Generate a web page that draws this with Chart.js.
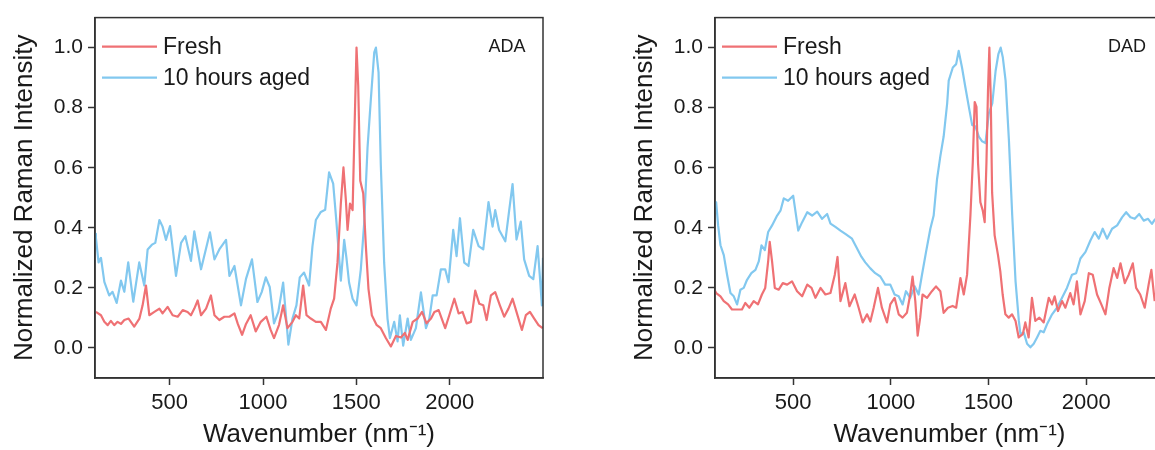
<!DOCTYPE html>
<html>
<head>
<meta charset="utf-8">
<script src="https://cdn.jsdelivr.net/npm/chart.js@4.4.1/dist/chart.umd.min.js"></script>
<style>
  html, body { margin: 0; padding: 0; width: 1155px; height: 450px; overflow: hidden; background: #ffffff; }
  .panel { position: absolute; top: 0; height: 450px; }
  #p1 { left: 0; width: 560px; }
  #p2 { left: 620px; width: 600px; }
</style>
</head>
<body>
<div class="panel" id="p1"><canvas id="c1" width="560" height="450"></canvas></div>
<div class="panel" id="p2"><canvas id="c2" width="600" height="450"></canvas></div>
<script>
// ---------- DATA ----------
const seriesLabels = ["Fresh", "10 hours aged"];
const panelLabels = ["ADA", "DAD"];
const xTicks = [500, 1000, 1500, 2000];
const yTicks = [0.0, 0.2, 0.4, 0.6, 0.8, 1.0];

// ADA - Fresh
const adaFreshX = [105,132,150,168,185,203,221,239,257,280,310,338,355,373,391,418,445,462,489,516,543,570,596,614,632,650,668,695,721,740,766,793,820,847,865,888,909,934,961,988,1018,1041,1059,1086,1108,1131,1158,1176,1194,1215,1233,1256,1283,1310,1337,1363,1381,1399,1417,1431,1444,1453,1466,1480,1490,1501,1510,1521,1537,1551,1565,1583,1608,1631,1658,1685,1712,1739,1760,1775,1802,1828,1852,1876,1900,1918,1941,1976,1998,2025,2048,2069,2091,2114,2137,2159,2180,2198,2221,2244,2269,2292,2315,2337,2358,2387,2408,2430,2453,2476,2498];
const adaFreshY = [0.12,0.109,0.087,0.076,0.09,0.076,0.087,0.08,0.093,0.098,0.071,0.098,0.142,0.208,0.109,0.12,0.131,0.115,0.137,0.109,0.104,0.126,0.12,0.109,0.131,0.158,0.109,0.131,0.175,0.109,0.093,0.104,0.104,0.115,0.08,0.044,0.08,0.109,0.055,0.087,0.104,0.06,0.033,0.077,0.142,0.066,0.087,0.109,0.098,0.208,0.109,0.098,0.087,0.087,0.06,0.131,0.164,0.284,0.481,0.601,0.492,0.393,0.481,0.459,0.721,1.0,0.874,0.557,0.514,0.339,0.197,0.109,0.077,0.066,0.033,0.005,0.04,0.035,0.05,0.027,0.087,0.098,0.12,0.082,0.098,0.12,0.126,0.066,0.109,0.164,0.115,0.12,0.082,0.087,0.191,0.147,0.142,0.093,0.175,0.186,0.142,0.104,0.131,0.164,0.12,0.06,0.109,0.12,0.098,0.076,0.066];

// ADA - 10 hours aged
const adaAgedX = [100,105,119,132,150,176,194,216,239,257,278,305,337,364,382,405,423,445,462,480,502,534,561,584,614,632,668,716,740,766,802,820,847,882,909,941,970,993,1015,1036,1059,1082,1108,1136,1158,1179,1197,1220,1247,1265,1283,1310,1333,1354,1376,1394,1417,1435,1447,1461,1480,1501,1524,1542,1560,1578,1596,1605,1619,1631,1649,1667,1680,1703,1721,1733,1751,1775,1792,1819,1846,1873,1891,1909,1930,1953,1976,1994,2019,2037,2055,2078,2101,2126,2155,2180,2208,2230,2244,2265,2298,2319,2337,2358,2381,2399,2426,2448,2471,2483,2494,2500];
const adaAgedY = [0.38,0.367,0.285,0.30,0.22,0.175,0.187,0.15,0.224,0.187,0.285,0.154,0.285,0.208,0.328,0.344,0.35,0.426,0.404,0.36,0.406,0.24,0.35,0.372,0.29,0.388,0.262,0.385,0.295,0.328,0.36,0.24,0.273,0.142,0.23,0.295,0.153,0.186,0.235,0.203,0.082,0.12,0.218,0.011,0.098,0.142,0.235,0.251,0.208,0.339,0.426,0.453,0.46,0.585,0.547,0.415,0.224,0.36,0.30,0.218,0.164,0.142,0.262,0.415,0.667,0.83,0.984,1.0,0.918,0.612,0.284,0.098,0.033,0.087,0.022,0.109,0.008,0.098,0.027,0.066,0.185,0.066,0.098,0.175,0.175,0.262,0.262,0.219,0.393,0.306,0.432,0.284,0.273,0.393,0.339,0.328,0.486,0.404,0.459,0.393,0.355,0.459,0.546,0.361,0.421,0.295,0.24,0.229,0.339,0.24,0.142,0.30];

// DAD - Fresh
const dadFreshX = [100,106,128,145,167,187,213,238,255,276,298,320,340,357,372,380,392,406,426,447,469,494,520,546,572,594,614,640,665,691,713,727,742,767,788,815,835,856,878,895,912,934,954,980,997,1019,1040,1060,1082,1099,1111,1125,1137,1150,1162,1185,1210,1231,1253,1270,1292,1316,1334,1356,1373,1390,1407,1419,1429,1438,1446,1458,1470,1480,1489,1497,1504,1511,1518,1531,1548,1560,1572,1586,1603,1620,1638,1654,1675,1688,1705,1722,1739,1760,1782,1808,1825,1838,1855,1876,1893,1918,1935,1952,1970,1992,2013,2033,2055,2077,2098,2118,2140,2158,2175,2197,2217,2238,2255,2276,2299,2319,2333,2350];
const dadFreshY = [0.19,0.183,0.172,0.156,0.145,0.128,0.128,0.128,0.15,0.134,0.156,0.145,0.178,0.2,0.288,0.353,0.288,0.2,0.194,0.216,0.211,0.222,0.189,0.172,0.211,0.2,0.167,0.2,0.178,0.183,0.244,0.303,0.156,0.216,0.139,0.178,0.134,0.085,0.112,0.088,0.134,0.2,0.134,0.085,0.145,0.167,0.112,0.101,0.117,0.178,0.238,0.156,0.041,0.101,0.178,0.167,0.189,0.205,0.189,0.117,0.134,0.14,0.134,0.233,0.178,0.244,0.441,0.616,0.819,0.803,0.616,0.485,0.458,0.419,0.616,0.857,1.0,0.836,0.518,0.375,0.31,0.255,0.178,0.112,0.101,0.112,0.09,0.035,0.046,0.085,0.035,0.167,0.09,0.101,0.085,0.167,0.145,0.172,0.123,0.156,0.134,0.183,0.145,0.222,0.112,0.156,0.249,0.244,0.178,0.145,0.112,0.2,0.266,0.233,0.282,0.216,0.244,0.282,0.2,0.178,0.134,0.211,0.26,0.156];

// DAD - 10 hours aged
const dadAgedX = [100,106,116,128,145,162,179,196,213,230,247,264,286,307,324,338,355,372,392,418,435,452,474,500,526,546,572,597,623,648,674,691,716,742,767,801,827,849,869,895,920,946,971,997,1019,1040,1060,1077,1099,1122,1142,1159,1180,1202,1219,1236,1253,1270,1288,1296,1317,1334,1347,1364,1381,1402,1416,1433,1450,1467,1484,1501,1519,1536,1550,1562,1573,1587,1604,1621,1638,1655,1663,1680,1697,1714,1731,1748,1765,1782,1799,1825,1850,1876,1901,1927,1948,1970,1996,2021,2043,2064,2084,2106,2132,2158,2183,2204,2226,2248,2271,2294,2316,2336,2353];
const dadAgedY = [0.47,0.485,0.408,0.342,0.309,0.243,0.183,0.172,0.145,0.194,0.2,0.227,0.249,0.26,0.288,0.342,0.326,0.386,0.408,0.441,0.457,0.498,0.49,0.507,0.391,0.419,0.452,0.441,0.454,0.43,0.446,0.414,0.403,0.391,0.38,0.364,0.331,0.304,0.285,0.265,0.249,0.238,0.211,0.211,0.178,0.172,0.145,0.189,0.167,0.205,0.178,0.243,0.32,0.397,0.441,0.561,0.638,0.704,0.814,0.89,0.934,0.945,0.989,0.934,0.869,0.792,0.742,0.737,0.704,0.688,0.682,0.78,0.814,0.923,0.978,1.0,0.967,0.89,0.693,0.441,0.222,0.09,0.046,0.052,0.014,0.002,0.014,0.035,0.057,0.052,0.079,0.112,0.134,0.167,0.2,0.244,0.249,0.298,0.32,0.358,0.386,0.364,0.397,0.364,0.397,0.408,0.435,0.452,0.435,0.43,0.446,0.424,0.43,0.413,0.43];

// ---------- STYLE ----------
const RED = "#ef7174";
const BLUE = "#82c8ef";
const AXIS = "#333333";
const TEXT = "#1a1a1a";
const FONT = "'Liberation Sans', Arial, Helvetica, sans-serif";

function pts(xs, ys) { return xs.map((x, i) => ({ x: x, y: ys[i] })); }

const boxAndLegend = {
  id: "boxAndLegend",
  afterDraw(chart, args, opts) {
    const { ctx, chartArea: a } = chart;
    ctx.save();
    ctx.strokeStyle = AXIS;
    ctx.lineWidth = 1.5;
    ctx.strokeRect(a.left, a.top, a.right - a.left, a.bottom - a.top);
    // legend
    ctx.font = "23px " + FONT;
    ctx.textBaseline = "middle";
    ctx.textAlign = "left";
    chart.data.datasets.forEach((ds, i) => {
      const y = a.top + 29 + i * 31;
      ctx.strokeStyle = ds.borderColor;
      ctx.lineWidth = 2.2;
      ctx.beginPath();
      ctx.moveTo(a.left + 7, y);
      ctx.lineTo(a.left + 62, y);
      ctx.stroke();
      ctx.fillStyle = TEXT;
      ctx.fillText(ds.label, a.left + 68, y + 1);
    });
    // panel label
    ctx.font = "18px " + FONT;
    ctx.textAlign = "center";
    ctx.fillStyle = TEXT;
    ctx.fillText(opts.text, opts.cx, a.top + 29);
    ctx.restore();
  }
};

function makeChart(id, freshX, freshY, agedX, agedY, label, rightPad, labelCx) {
  return new Chart(document.getElementById(id), {
    type: "line",
    data: {
      datasets: [
        { label: seriesLabels[0], data: pts(freshX, freshY), borderColor: RED, borderWidth: 2.2, pointRadius: 0, tension: 0, fill: false, borderJoinStyle: "round" },
        { label: seriesLabels[1], data: pts(agedX, agedY), borderColor: BLUE, borderWidth: 2.2, pointRadius: 0, tension: 0, fill: false, borderJoinStyle: "round" }
      ]
    },
    options: {
      responsive: false,
      animation: false,
      events: [],
      layout: { padding: { top: 14, right: rightPad, left: 0, bottom: 0 } },
      plugins: {
        legend: { display: false },
        tooltip: { enabled: false },
        boxAndLegend: { text: label, cx: labelCx }
      },
      scales: {
        x: {
          type: "linear", min: 100, max: 2500,
          afterBuildTicks: s => { s.ticks = xTicks.map(v => ({ value: v })); },
          afterFit: s => { s.height = 72; },
          grid: { drawOnChartArea: false, drawTicks: true, tickLength: 7, tickColor: AXIS, tickWidth: 1.5 },
          border: { display: true, color: AXIS, width: 1.5 },
          ticks: { font: { size: 22, family: FONT }, color: TEXT, padding: 5, maxRotation: 0, autoSkip: false, callback: v => String(v) },
          title: { display: true, text: "Wavenumber (nm\u207B\u00B9)", font: { size: 26, family: FONT }, color: TEXT, padding: { top: 0, bottom: 0 } }
        },
        y: {
          type: "linear", min: -0.1, max: 1.1,
          afterBuildTicks: s => { s.ticks = yTicks.map(v => ({ value: v })); },
          afterFit: s => { s.width = 95; },
          grid: { drawOnChartArea: false, drawTicks: true, tickLength: 7, tickColor: AXIS, tickWidth: 1.5 },
          border: { display: true, color: AXIS, width: 1.5 },
          ticks: { font: { size: 21, family: FONT }, color: TEXT, padding: 5, callback: v => Number(v).toFixed(1) },
          title: { display: true, text: "Normalized Raman Intensity", font: { size: 26, family: FONT }, color: TEXT, padding: { top: 9, bottom: 0 } }
        }
      }
    },
    plugins: [boxAndLegend]
  });
}

makeChart("c1", adaFreshX, adaFreshY, adaAgedX, adaAgedY, panelLabels[0], 17, 507);
makeChart("c2", dadFreshX, dadFreshY, dadAgedX, dadAgedY, panelLabels[1], 36, 507);
</script>
</body>
</html>
